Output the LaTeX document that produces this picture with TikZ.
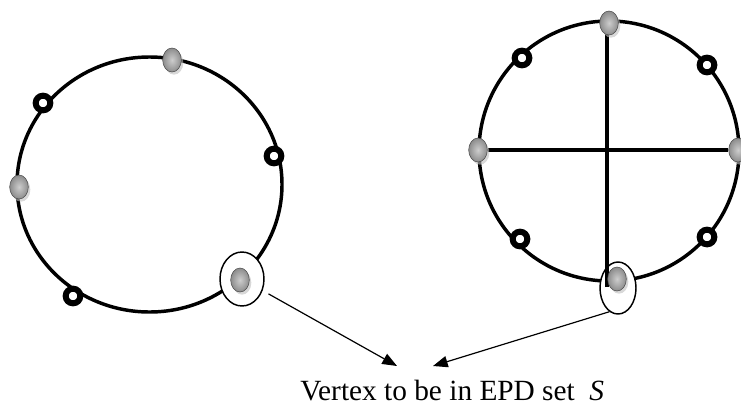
\documentclass[tikz,border=0pt]{standalone}
\usepackage{fontspec}
\setmainfont{Liberation Serif}
\usepackage{xcolor}
\usetikzlibrary{shapes.geometric,shadows,arrows.meta}
\definecolor{vertexgray}{RGB}{140,140,140}
\definecolor{vertexlight}{RGB}{205,205,205}
\pgfdeclarelayer{back}
\pgfdeclarelayer{mid}
\pgfsetlayers{back,mid,main}
\tikzset{
    cycleline/.style={line width=2.6pt},
    crossline/.style={line width=2.6pt},
    dom/.style={ellipse, minimum width=14pt, minimum height=18pt, inner sep=0pt,
        draw=gray!60!black, line width=0.4pt, inner color=vertexlight, outer color=vertexgray,
        drop shadow={shadow xshift=1.5pt, shadow yshift=-2pt, fill=gray!50, opacity=.6}},
    ring/.style={circle, draw, line width=4.5pt, fill=white, minimum size=11pt, inner sep=0pt},
    picked/.style={ellipse, draw, line width=1.1pt, fill=white, inner sep=0pt},
    pointer/.style={->, line width=0.9pt}
}

\begin{document}
\begin{tikzpicture}[x=0.75pt, y=-0.75pt, >={Triangle[length=11pt,width=8.5pt]}]
    \useasboundingbox (0,0) rectangle (741,407);

    % Cycles
    \coordinate (cL) at (149.5,184.5);
    \coordinate (cR) at (609,151);
    \begin{pgfonlayer}{back}
        \draw[cycleline] (cL) ellipse [x radius=132.5, y radius=127.5];
        \draw[cycleline] (cR) circle [radius=130];
        \node[picked, minimum width=33pt, minimum height=40.5pt] (selL) at (242,279) {};
        \node[picked, minimum width=27pt, minimum height=39pt] (selR) at (618,288) {};
    \end{pgfonlayer}

    % Left graph
    \node[dom] (lT) at (172,60) {};
    \node[dom] (lL) at (19,187) {};
    \node[dom] (lS) at (240,280) {};
    \node[ring] (lA) at (43,103) {};
    \node[ring] (lB) at (274,156) {};
    \node[ring] (lC) at (73,296) {};

    % Right graph
    \node[dom] (rT) at (609,23) {};
    \node[dom] (rL) at (478,150) {};
    \node[dom] (rR) at (738,150) {};
    \node[dom] (rS) at (617,279) {};
    \node[ring] (rA) at (522,58) {};
    \node[ring] (rB) at (707,65) {};
    \node[ring] (rC) at (520,239) {};
    \node[ring] (rD) at (707,237) {};
    \coordinate (rEnd) at (607,287);

    \begin{pgfonlayer}{mid}
        \draw[crossline] (rL) -- (rR);
        \draw[crossline] (rEnd) -- (rEnd |- rT.center);
    \end{pgfonlayer}

    % Labels
    \node[anchor=base west, inner sep=0pt, font=\fontsize{22}{26}\selectfont] (caption) at (300,400)
        {Vertex to be in EPD set\hspace{0.5em}\textit{S}};
    \coordinate (tipL) at (397,366);
    \coordinate (tipR) at (433,366);
    \draw[pointer, shorten <=5pt] (selL) -- (tipL);
    \draw[pointer] (selR.-110) -- (tipR);
\end{tikzpicture}
\end{document}
